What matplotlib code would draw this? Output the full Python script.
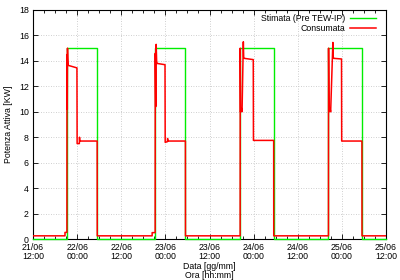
import matplotlib
matplotlib.use("Agg")
import matplotlib.pyplot as plt
from matplotlib.ticker import MultipleLocator

plt.rcParams['font.family'] = ['Liberation Sans', 'DejaVu Sans']

# hours since 21/06 12:00
tick_hours = [0, 12, 24, 36, 48, 60, 72, 84, 96]
tick_labels = ["21/06\n12:00", "22/06\n00:00", "22/06\n12:00", "23/06\n00:00",
               "23/06\n12:00", "24/06\n00:00", "24/06\n12:00", "25/06\n00:00",
               "25/06\n12:00"]
y_ticks = [0, 2, 4, 6, 8, 10, 12, 14, 16, 18]

# Stimata (Pre TEW-IP)
stim_t = [0, 9.25, 9.25, 17.45, 17.45, 33.2, 33.2, 41.45, 41.45,
          56.3, 56.3, 65.45, 65.45, 80.35, 80.35, 89.45, 89.45, 96]
stim_v = [0, 0, 15, 15, 0, 0, 15, 15, 0,
          0, 15, 15, 0, 0, 15, 15, 0, 0]

# Consumata
cons_t = [0, 8.7, 8.7, 9.22, 9.24, 9.32, 9.38, 9.45, 9.55, 11.95, 12.0, 12.6, 12.65, 12.72, 17.45, 17.47,
          32.4, 32.4, 33.22, 33.25, 33.38, 33.5, 33.62, 33.75, 35.9, 35.95, 36.55, 36.6, 36.7, 41.45, 41.47,
          56.33, 56.36, 56.45, 56.65, 56.85, 57.2, 57.3, 57.45, 59.9, 59.95, 65.45, 65.47,
          80.35, 80.38, 80.5, 80.75, 80.95, 81.55, 81.65, 81.8, 83.9, 83.95, 89.45, 89.47, 96]
cons_v = [0.25, 0.25, 0.52, 0.52, 14.5, 10.2, 15.0, 14.2, 13.65, 13.45, 7.5, 7.5, 8.0, 7.7, 7.7, 0.25,
          0.25, 0.5, 0.5, 14.6, 10.4, 15.3, 14.0, 13.8, 13.7, 7.6, 7.65, 7.9, 7.7, 7.7, 0.25,
          0.25, 15.0, 10.0, 10.3, 10.0, 15.5, 14.3, 14.2, 14.1, 7.75, 7.75, 0.25,
          0.25, 15.0, 10.0, 10.3, 10.0, 15.45, 14.3, 14.2, 14.15, 7.7, 7.7, 0.25, 0.25]

fig = plt.figure(figsize=(4, 2.8), dpi=100)
ax = fig.add_axes([0.0825, 0.1464, 0.8825, 0.8179])

ax.plot(stim_t, stim_v, color='#00ee00', lw=1.0, label='Stimata (Pre TEW-IP)', clip_on=False, zorder=3)
ax.plot(cons_t, cons_v, color='#ff0000', lw=1.1, label='Consumata', zorder=4)

ax.set_xlim(0, 96)
ax.set_ylim(0, 18)
ax.set_xticks(tick_hours)
ax.set_xticklabels(tick_labels, linespacing=1.0)
ax.xaxis.set_minor_locator(MultipleLocator(3))
ax.set_yticks(y_ticks)

ax.grid(True, which='major', color='#c0c0c0', linestyle=(0, (1, 2)), lw=0.6)
ax.tick_params(which='both', direction='in', top=True, right=True, labelsize=6.3, pad=3.0, width=0.6)
ax.tick_params(which='major', length=3.5)
ax.tick_params(which='minor', length=2)
for s in ax.spines.values():
    s.set_linewidth(0.8)

ax.set_ylabel('Potenza Attiva [KW]', fontsize=6.3, labelpad=4)
fig.text(0.5225, 1 - 271 / 280, 'Data [gg/mm]\nOra [hh:mm]', fontsize=6.3,
         ha='center', va='center', linespacing=1.0)

leg = ax.legend(loc='upper right', frameon=False, fontsize=6.3, markerfirst=False,
                handlelength=3.0, handletextpad=0.6, labelspacing=0.1,
                borderaxespad=0.1, bbox_to_anchor=(0.985, 1.0))
for t in leg.get_texts():
    t.set_ha('right')

fig.savefig('out.png', dpi=100)
